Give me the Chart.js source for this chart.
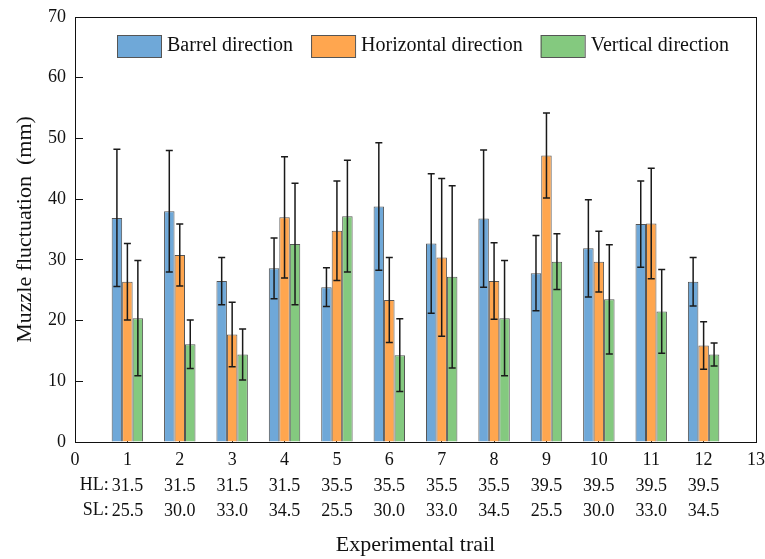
<!DOCTYPE html>
<html>
<head>
<meta charset="utf-8">
<script src="https://cdn.jsdelivr.net/npm/chart.js@4.4.0/dist/chart.umd.min.js"></script>
<style>
    html, body { margin: 0; padding: 0; background: #fff; }
    #wrap { width: 765px; height: 559px; }
</style>
</head>
<body>
<div id="wrap"><canvas id="chart"></canvas></div>
<script>
const trials = [1, 2, 3, 4, 5, 6, 7, 8, 9, 10, 11, 12];
const hlValues = ['31.5', '31.5', '31.5', '31.5', '35.5', '35.5', '35.5', '35.5', '39.5', '39.5', '39.5', '39.5'];
const slValues = ['25.5', '30.0', '33.0', '34.5', '25.5', '30.0', '33.0', '34.5', '25.5', '30.0', '33.0', '34.5'];

const barrel = [36.9, 38.0, 26.5, 28.6, 25.5, 38.8, 32.7, 36.8, 27.8, 31.9, 35.9, 26.4];
const barrelErr = [11.3, 10.0, 3.9, 5.0, 3.2, 10.5, 11.5, 11.3, 6.2, 8.0, 7.1, 4.0];
const horizontal = [26.4, 30.8, 17.7, 37.0, 34.8, 23.4, 30.4, 26.5, 47.2, 29.7, 36.0, 15.9];
const horizontalErr = [6.3, 5.1, 5.3, 10.0, 8.2, 7.0, 13.0, 6.3, 7.0, 5.0, 9.1, 3.9];
const vertical = [20.4, 16.1, 14.4, 32.6, 37.2, 14.3, 27.2, 20.4, 29.7, 23.5, 21.5, 14.4];
const verticalErr = [9.5, 4.0, 4.2, 10.0, 9.2, 6.0, 15.0, 9.5, 4.6, 9.0, 6.9, 1.9];

const blue = '#6fa8d8';
const orange = '#ffa64f';
const green = '#84c97f';
const edge = '#555555';
const ink = '#111111';
const serif = '"Liberation Serif", "Times New Roman", serif';

Chart.defaults.font.family = serif;
Chart.defaults.color = ink;

function points(values) {
    return trials.map((t, i) => ({ x: t, y: values[i] }));
}

function dataset(label, values, errors, color) {
    return {
        label,
        data: points(values),
        errors,
        backgroundColor: color,
        borderColor: edge,
        borderWidth: 1,
        categoryPercentage: 0.6,
        barPercentage: 1,
    };
}

// error bars with caps at both ends
const errorBars = {
    id: 'errorBars',
    afterDatasetsDraw(chart) {
        const { ctx } = chart;
        const y = chart.scales.y;
        ctx.save();
        ctx.strokeStyle = '#1a1a1a';
        ctx.lineWidth = 1.5;
        chart.data.datasets.forEach((ds, di) => {
            const meta = chart.getDatasetMeta(di);
            meta.data.forEach((bar, i) => {
                const v = ds.data[i].y;
                const e = ds.errors[i];
                const top = y.getPixelForValue(v + e);
                const bot = y.getPixelForValue(v - e);
                const cap = 3.5;
                ctx.beginPath();
                ctx.moveTo(bar.x, top);
                ctx.lineTo(bar.x, bot);
                ctx.moveTo(bar.x - cap, top);
                ctx.lineTo(bar.x + cap, top);
                ctx.moveTo(bar.x - cap, bot);
                ctx.lineTo(bar.x + cap, bot);
                ctx.stroke();
            });
        });
        ctx.restore();
    },
};

// frame, legend inside the plot, HL/SL row captions
const decor = {
    id: 'decor',
    afterDraw(chart) {
        const { ctx, chartArea: a } = chart;
        const x = chart.scales.x;
        ctx.save();
        ctx.strokeStyle = ink;
        ctx.lineWidth = 1;
        ctx.strokeRect(Math.round(a.left) + 0.5, Math.round(a.top) + 0.5,
            Math.round(a.right - a.left), Math.round(a.bottom - a.top));

        // legend row
        ctx.font = '20px ' + serif;
        ctx.textBaseline = 'middle';
        ctx.textAlign = 'left';
        let lx = a.left + 42;
        const ly = a.top + 18;
        chart.data.datasets.forEach((ds) => {
            ctx.fillStyle = ds.backgroundColor;
            ctx.fillRect(lx, ly, 44, 22);
            ctx.strokeStyle = edge;
            ctx.strokeRect(lx + 0.5, ly + 0.5, 44, 22);
            ctx.fillStyle = ink;
            ctx.fillText(ds.label, lx + 50, ly + 11);
            lx += 50 + ctx.measureText(ds.label).width + 18;
        });

        ctx.font = '18px ' + serif;
        ctx.fillStyle = ink;
        ctx.textAlign = 'right';
        const x1 = x.getPixelForValue(1) - ctx.measureText(hlValues[0]).width / 2 - 3;
        ctx.fillText('HL:', x1, x.top + 43);
        ctx.fillText('SL:', x1, x.top + 68);
        ctx.restore();
    },
};

new Chart(document.getElementById('chart'), {
    type: 'bar',
    data: {
        datasets: [
            dataset('Barrel direction', barrel, barrelErr, blue),
            dataset('Horizontal direction', horizontal, horizontalErr, orange),
            dataset('Vertical direction', vertical, verticalErr, green),
        ],
    },
    options: {
        responsive: true,
        maintainAspectRatio: false,
        animation: false,
        layout: { padding: { top: 17, right: 9, left: 0, bottom: 0 } },
        plugins: {
            legend: { display: false },
            tooltip: { enabled: false },
        },
        scales: {
            x: {
                type: 'linear',
                min: 0,
                max: 13,
                offset: false,
                z: 1,
                grid: { drawOnChartArea: false, offset: false, tickLength: -8, color: ink },
                border: { color: ink },
                ticks: {
                    stepSize: 1,
                    padding: 14,
                    maxRotation: 0,
                    font: { size: 18, lineHeight: 1.4 },
                    callback: (v) => {
                        const i = trials.indexOf(v);
                        return i >= 0 ? [String(v), hlValues[i], slValues[i]] : [String(v), '', ''];
                    },
                },
                title: {
                    display: true,
                    text: 'Experimental trail',
                    font: { size: 22 },
                    padding: { top: 0, bottom: 1 },
                },
                afterFit: (scale) => {
                    scale.height = 117;
                    scale.paddingLeft = 0;
                    scale.paddingRight = 0;
                },
            },
            y: {
                min: 0,
                max: 70,
                z: 1,
                grid: { drawOnChartArea: false, tickLength: -8, color: ink },
                border: { color: ink },
                ticks: { stepSize: 10, padding: 17, font: { size: 18 } },
                title: {
                    display: true,
                    text: 'Muzzle fluctuation  (mm)',
                    font: { size: 22 },
                    padding: { top: 12, bottom: 0 },
                },
                afterFit: (scale) => {
                    scale.width = 75;
                    scale.paddingTop = 0;
                    scale.paddingBottom = 0;
                },
            },
        },
    },
    plugins: [errorBars, decor],
});
</script>
</body>
</html>
